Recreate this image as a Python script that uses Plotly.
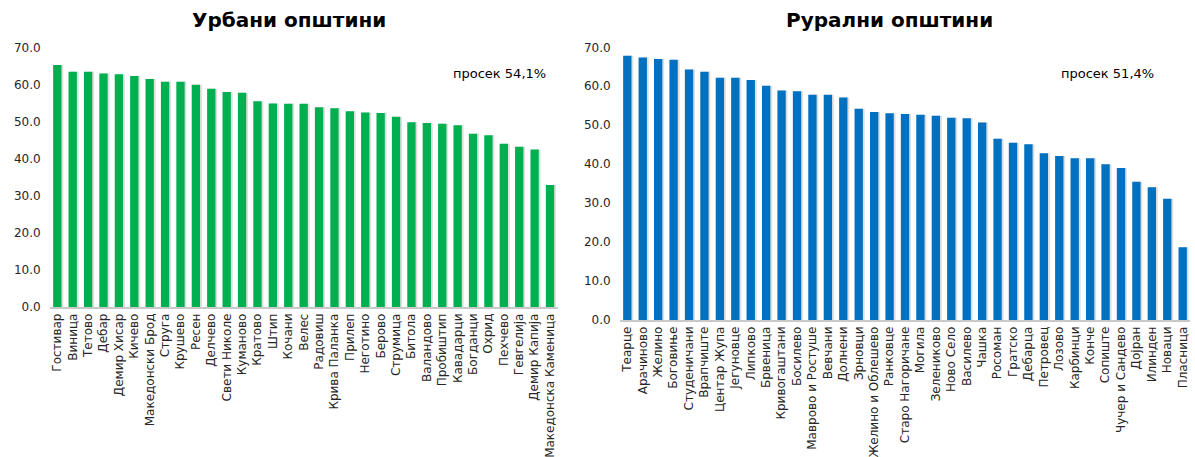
import plotly.graph_objects as go

# Urban municipalities
urban_names = [
    "Гостивар", "Виница", "Тетово", "Дебар", "Демир Хисар", "Кичево",
    "Македонски Брод", "Струга", "Крушево", "Ресен", "Делчево",
    "Свети Николе", "Куманово", "Кратово", "Штип", "Кочани", "Велес",
    "Радовиш", "Крива Паланка", "Прилеп", "Неготино", "Берово", "Струмица",
    "Битола", "Валандово", "Пробиштип", "Кавадарци", "Богданци", "Охрид",
    "Пехчево", "Гевгелија", "Демир Капија", "Македонска Каменица",
]
urban_values = [
    65.4, 63.6, 63.6, 63.1, 62.9, 62.4, 61.6, 60.9, 60.9, 60.1, 59.0,
    58.1, 57.9, 55.6, 55.0, 54.9, 54.9, 54.0, 53.7, 52.9, 52.6, 52.4,
    51.4, 49.9, 49.7, 49.5, 49.1, 46.8, 46.4, 44.1, 43.3, 42.6, 33.0,
]
urban_avg_label = "просек 54,1%"

# Rural municipalities
rural_names = [
    "Теарце", "Арачиново", "Желино", "Боговиње", "Студеничани", "Врапчиште",
    "Центар Жупа", "Јегуновце", "Липково", "Брвеница", "Кривогаштани",
    "Босилево", "Маврово и Ростуше", "Вевчани", "Долнени", "Зрновци",
    "Желино и Облешево", "Ранковце", "Старо Нагоричане", "Могила",
    "Зелениково", "Ново Село", "Василево", "Чашка", "Росоман", "Гратско",
    "Дебарца", "Петровец", "Лозово", "Карбинци", "Конче", "Сопиште",
    "Чучер и Сандево", "Дојран", "Илинден", "Новаци", "Пласница",
]
rural_values = [
    67.8, 67.4, 67.0, 66.8, 64.3, 63.7, 62.2, 62.2, 61.6, 60.1, 58.9,
    58.7, 57.8, 57.8, 57.1, 54.2, 53.4, 53.1, 52.9, 52.7, 52.4, 51.9,
    51.8, 50.7, 46.5, 45.5, 45.1, 42.8, 42.1, 41.5, 41.5, 40.0, 39.0,
    35.5, 34.1, 31.1, 18.7,
]
rural_avg_label = "просек 51,4%"

titles = ["Урбани општини", "Рурални општини"]

W, H = 1195, 457
FONT = "DejaVu Sans"
TXT = "#262626"
BAR_W = 0.54


def px_x(p):
    return p / W


def px_y(p):
    return 1 - p / H


fig = go.Figure()

panels = [
    (urban_names, urban_values, "#00B050", "x", "y"),
    (rural_names, rural_values, "#0070C0", "x2", "y2"),
]
for names, vals, color, xa, ya in panels:
    # soft drop shadow behind each bar
    fig.add_trace(go.Bar(
        x=names, y=vals, xaxis=xa, yaxis=ya,
        width=BAR_W, offset=-BAR_W / 2 + 0.12,
        marker=dict(color="rgba(0,0,0,0.13)", line=dict(width=0)),
        hoverinfo="skip", showlegend=False,
    ))
    fig.add_trace(go.Bar(
        x=names, y=vals, xaxis=xa, yaxis=ya,
        width=BAR_W, offset=-BAR_W / 2,
        marker=dict(color=color, line=dict(width=0)),
        showlegend=False,
    ))

xcommon = dict(
    type="category", tickangle=-90, showgrid=False, zeroline=False,
    showline=True, linecolor="#C9C9C9", linewidth=1.5, ticks="",
    automargin=False,
    tickfont=dict(family=FONT, size=12, color=TXT),
)
ycommon = dict(
    range=[0, 70], dtick=10, tickformat=".1f", showgrid=False,
    zeroline=False, showline=False, ticks="", ticklabelstandoff=8,
    automargin=False,
    tickfont=dict(family=FONT, size=12, color=TXT),
)

fig.update_layout(
    width=W, height=H,
    margin=dict(l=0, r=0, t=0, b=0),
    paper_bgcolor="white", plot_bgcolor="white",
    barmode="overlay",
    xaxis=dict(domain=[px_x(49.6), px_x(557.7)], anchor="y", **xcommon),
    yaxis=dict(domain=[px_y(307), px_y(48)], anchor="x", **ycommon),
    xaxis2=dict(domain=[px_x(619.6), px_x(1190.4)], anchor="y2", **xcommon),
    yaxis2=dict(domain=[px_y(320), px_y(47.3)], anchor="x2", **ycommon),
    annotations=[
        dict(text="<b>" + titles[0] + "</b>", x=px_x(288.5), y=px_y(20),
             xref="paper", yref="paper", showarrow=False,
             xanchor="center", yanchor="middle",
             font=dict(family=FONT, size=20, color="#000000")),
        dict(text="<b>" + titles[1] + "</b>", x=px_x(889.5), y=px_y(20),
             xref="paper", yref="paper", showarrow=False,
             xanchor="center", yanchor="middle",
             font=dict(family=FONT, size=20, color="#000000")),
        dict(text=urban_avg_label, x=px_x(499), y=px_y(73),
             xref="paper", yref="paper", showarrow=False,
             xanchor="center", yanchor="middle",
             font=dict(family=FONT, size=13, color="#000000")),
        dict(text=rural_avg_label, x=px_x(1107.5), y=px_y(73),
             xref="paper", yref="paper", showarrow=False,
             xanchor="center", yanchor="middle",
             font=dict(family=FONT, size=13, color="#000000")),
    ],
)

fig.write_html("out.html")
